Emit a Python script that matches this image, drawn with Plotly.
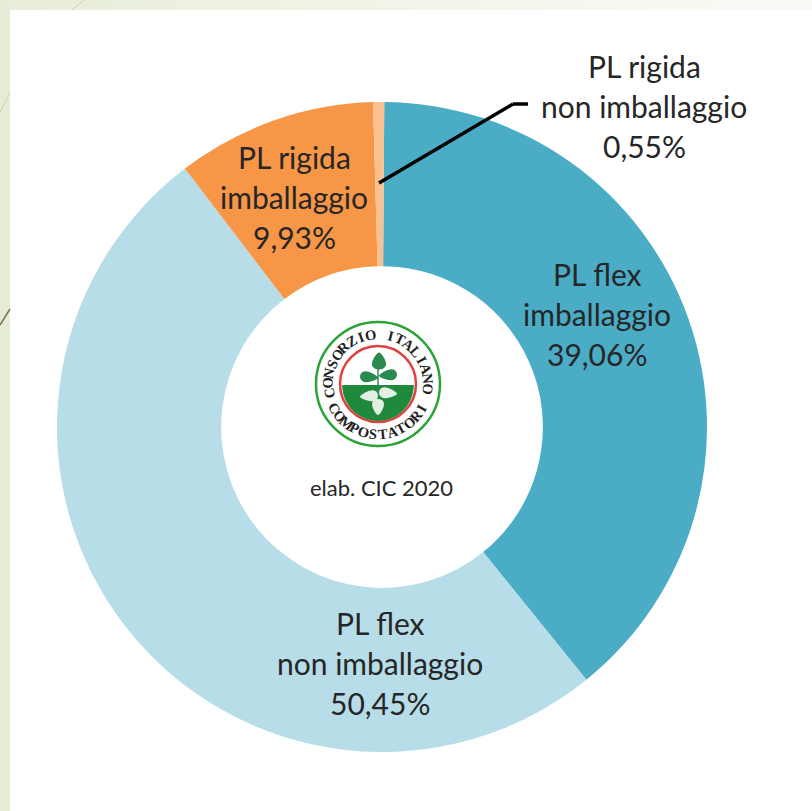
import math
import plotly.graph_objects as go

W, H = 812, 811
labels = ["PL flex imballaggio", "PL flex non imballaggio", "PL rigida imballaggio", "PL rigida non imballaggio"]
values = [39.06, 50.45, 9.93, 0.55]
colors = ["#4BACC6", "#B7DDE8", "#F79646", "#FAC090"]
value_texts = ["39,06%", "50,45%", "9,93%", "0,55%"]
label_lines = [["PL flex", "imballaggio"], ["PL flex", "non imballaggio"], ["PL rigida", "imballaggio"], ["PL rigida", "non imballaggio"]]
label_centres = [(597, 314), (380, 663), (294, 197), (644, 106)]
logo_top = "CONSORZIO ITALIANO"
logo_bottom = "COMPOSTATORI"
note = "elab. CIC 2020"

px = lambda v: v / W
py = lambda v: 1 - v / H

cx, cy, r = 382, 427, 325
fig = go.Figure(go.Pie(
    labels=labels, values=values, sort=False, direction="clockwise", rotation=0.4,
    hole=0.495, marker=dict(colors=colors, line=dict(width=0)), textinfo="none",
    hoverinfo="label+percent", showlegend=False,
    domain=dict(x=[px(cx - r), px(cx + r)], y=[py(cy + r), py(cy - r)]),
))

shapes = []
def rect(x0, y0, x1, y1, color):
    shapes.append(dict(type="rect", xref="paper", yref="paper", x0=px(x0), x1=px(x1), y0=py(y0), y1=py(y1),
                       fillcolor=color, line_width=0, layer="below"))
def line(x0, y0, x1, y1, color, width):
    shapes.append(dict(type="line", xref="paper", yref="paper", x0=px(x0), x1=px(x1), y0=py(y0), y1=py(y1),
                       line=dict(color=color, width=width)))
def circle(c_x, c_y, rad, fill, edge, width):
    shapes.append(dict(type="circle", xref="paper", yref="paper", x0=px(c_x - rad), x1=px(c_x + rad),
                       y0=py(c_y + rad), y1=py(c_y - rad), fillcolor=fill, line=dict(color=edge, width=width)))
def path(points, fill, edge="rgba(0,0,0,0)", width=0):
    d = "M " + " L ".join(f"{px(a):.5f},{py(b):.5f}" for a, b in points) + " Z"
    shapes.append(dict(type="path", xref="paper", yref="paper", path=d, fillcolor=fill, line=dict(color=edge, width=width)))

# slide background: left band and a top band fading to the right
rect(0, 0, 10, H, "#E6EDD6")
steps = 24
for i in range(steps):
    t = i / (steps - 1)
    c = tuple(round(a + (b - a) * t) for a, b in zip((232, 238, 219), (251, 251, 246)))
    rect(10 + (W - 10) * i / steps, 0, 10 + (W - 10) * (i + 1) / steps + 1, 10, "rgb(%d,%d,%d)" % c)
line(0, 112, 10, 93, "#CBD0B5", 1)
line(72, 10, 84, 0, "#CBD0B5", 1)
line(0, 325, 10, 309, "#7A6F58", 1.5)

# leader line
line(379, 183, 513, 104, "#000000", 3.5)
line(513, 104, 528, 104, "#000000", 3.5)

# logo
lx, ly = 378, 384
circle(lx, ly, 62, "#FFFFFF", "#2AA437", 2.5)
circle(lx, ly, 38, "#FFFFFF", "#E2403F", 2.5)
rg = 36
half = []
for i in range(33):
    a = math.radians(-90 + 180 * i / 32)
    half.append((lx + rg * math.sin(a) * 0.995, ly + 1 + rg * math.cos(a)))
path(half, "#1F8A3C")

def leaf(x, y, length, width, angle, fill):
    pts = []
    a = math.radians(angle)
    for i in range(24):
        t = 2 * math.pi * i / 24
        u = length / 2 * math.cos(t)
        v = width / 2 * math.sin(t) * (1 - 0.45 * math.cos(t))
        pts.append((x + u * math.cos(a) - v * math.sin(a), y + u * math.sin(a) + v * math.cos(a)))
    path(pts, fill)

green, pale = "#2A8A50", "#E3EEE4"
line(lx, ly - 15, lx, ly + 18, "#2A8A50", 1.5)
leaf(379, 361, 17, 13, -90, green)
leaf(369, 377, 18, 10, 5, green)
leaf(388, 375, 18, 10, 175, green)
leaf(369, 396, 18, 10, 175, pale)
leaf(388, 393, 18, 10, 5, pale)
leaf(378, 407, 16, 11, 90, pale)

annotations = []
def text(x, y, s, size, color="#262626", angle=0, family="Lato, Noto Sans, sans-serif"):
    annotations.append(dict(x=px(x), y=py(y), xref="paper", yref="paper", text=s, showarrow=False,
                            font=dict(size=size, color=color, family=family), textangle=angle,
                            xanchor="center", yanchor="middle"))

lh = 40
for lines, value, (tx, ty) in zip(label_lines, value_texts, label_centres):
    for i, s in enumerate(lines + [value]):
        text(tx, ty + (i - 1) * lh, s, 30)

text(381, 488, note, 22)

rt = 50
n = len(logo_top)
for i, ch in enumerate(logo_top):
    ang = -101 + 197 * i / (n - 1)
    a = math.radians(ang)
    text(lx + rt * math.sin(a), ly - rt * math.cos(a), f"<b>{ch}</b>", 14.5, "#222222", ang, "Liberation Serif")
n = len(logo_bottom)
for i, ch in enumerate(logo_bottom):
    ang = -61 + 122 * i / (n - 1)
    a = math.radians(ang)
    text(lx + rt * math.sin(a), ly + rt * math.cos(a), f"<b>{ch}</b>", 14.5, "#222222", -ang, "Liberation Serif")

fig.update_layout(width=W, height=H, margin=dict(l=0, r=0, t=0, b=0), paper_bgcolor="#FFFFFF",
                  shapes=shapes, annotations=annotations)
fig.write_html("out.html", config=dict(displayModeBar=False),
               post_script="document.body.style.margin='0';document.documentElement.style.overflow='hidden';")
